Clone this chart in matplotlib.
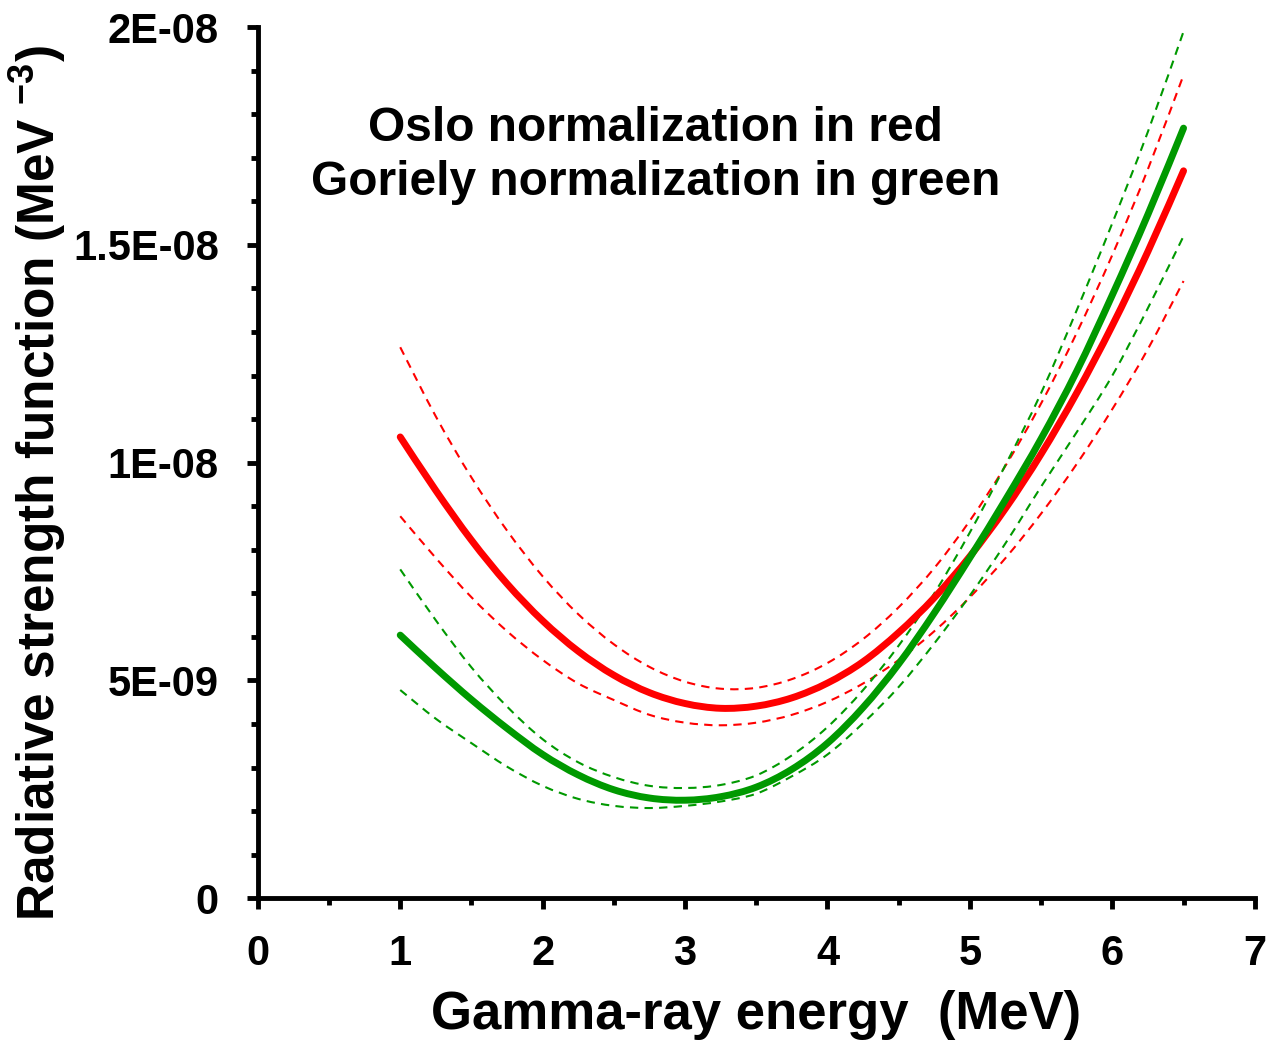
import numpy as np
import matplotlib
matplotlib.use("Agg")
import matplotlib.pyplot as plt
from matplotlib.ticker import MultipleLocator
from matplotlib.path import Path
from matplotlib.patches import PathPatch

plt.rcParams['font.family'] = ['Liberation Sans', 'DejaVu Sans']
plt.rcParams['font.weight'] = 'bold'
plt.rcParams['mathtext.fontset'] = 'custom'
plt.rcParams['mathtext.rm'] = 'Liberation Sans:bold'
plt.rcParams['mathtext.bf'] = 'Liberation Sans:bold'

# energie (MeV)
energy = [1.00, 1.25, 1.50, 1.75, 2.00, 2.25, 2.50, 2.75, 3.00, 3.25, 3.50, 3.75,
          4.00, 4.25, 4.50, 4.75, 5.00, 5.25, 5.50, 5.75, 6.00, 6.25, 6.50]

# Oslo normalization (x 1e-9)
oslo = [10.59, 9.36, 8.22, 7.22, 6.37, 5.67, 5.12, 4.72, 4.47, 4.36, 4.41, 4.60,
        4.94, 5.43, 6.10, 6.90, 7.85, 8.95, 10.20, 11.60, 13.15, 14.85, 16.70]
oslo_hi = [12.65, 11.06, 9.66, 8.44, 7.39, 6.52, 5.83, 5.31, 4.97, 4.81, 4.83, 5.03,
           5.40, 5.95, 6.68, 7.58, 8.67, 9.93, 11.36, 12.98, 14.77, 16.74, 18.90]
oslo_lo = [8.77, 7.81, 6.91, 6.13, 5.47, 4.93, 4.55, 4.21, 4.03, 3.97, 4.03, 4.21,
           4.51, 4.93, 5.47, 6.13, 6.91, 7.81, 8.83, 9.97, 11.23, 12.61, 14.17]

# Goriely normalization (x 1e-9)
gor = [6.04, 5.28, 4.56, 3.90, 3.30, 2.83, 2.49, 2.30, 2.25, 2.33, 2.55, 2.96,
       3.56, 4.38, 5.38, 6.55, 7.82, 9.15, 10.55, 12.10, 13.85, 15.70, 17.68]
gor_hi = [7.55, 6.38, 5.30, 4.40, 3.65, 3.12, 2.78, 2.58, 2.53, 2.60, 2.82, 3.28,
          3.93, 4.78, 5.80, 7.00, 8.40, 9.95, 11.60, 13.50, 15.50, 17.60, 19.90]
gor_lo = [4.78, 4.12, 3.56, 3.02, 2.58, 2.28, 2.12, 2.07, 2.12, 2.22, 2.40, 2.80,
          3.30, 4.02, 4.85, 5.85, 6.95, 8.15, 9.45, 10.70, 12.00, 13.55, 15.20]

ytick_vals = [0, 5e-9, 1e-8, 1.5e-8, 2e-8]
ytick_labels = ['0', '5E-09', '1E-08', '1.5E-08', '2E-08']


def smooth_line(ax, x, y, **kw):
    # ligne lissee comme dans Excel (bezier passant par les points)
    p = np.column_stack([x, y])
    n = len(p)
    verts = [p[0]]
    codes = [Path.MOVETO]
    for i in range(n - 1):
        p0 = p[i - 1] if i > 0 else p[i]
        p3 = p[i + 2] if i + 2 < n else p[i + 1]
        c1 = p[i] + (p[i + 1] - p0) / 6
        c2 = p[i + 1] - (p3 - p[i]) / 6
        verts += [c1, c2, p[i + 1]]
        codes += [Path.CURVE4] * 3
    ax.add_patch(PathPatch(Path(verts, codes), fill=False, **kw))


e = np.array(energy)
s = 1e-9

fig = plt.figure(figsize=(12.7, 10.42), dpi=100)
ax = fig.add_axes([0.203, 0.138, 0.785, 0.836])

red = '#FF0000'
green = '#009900'
dash = (0, (4, 3))

smooth_line(ax, e, np.array(oslo_hi) * s, edgecolor=red, lw=1.5, linestyle=dash)
smooth_line(ax, e, np.array(oslo_lo) * s, edgecolor=red, lw=1.5, linestyle=dash)
smooth_line(ax, e, np.array(gor_hi) * s, edgecolor=green, lw=1.5, linestyle=dash)
smooth_line(ax, e, np.array(gor_lo) * s, edgecolor=green, lw=1.5, linestyle=dash)
smooth_line(ax, e, np.array(oslo) * s, edgecolor=red, lw=5, capstyle='round', joinstyle='round')
smooth_line(ax, e, np.array(gor) * s, edgecolor=green, lw=5, capstyle='round', joinstyle='round')

ax.set_xlim(0, 7)
ax.set_ylim(0, 2e-8)
ax.set_yticks(ytick_vals)
ax.set_yticklabels(ytick_labels)
ax.xaxis.set_major_locator(MultipleLocator(1))
ax.xaxis.set_minor_locator(MultipleLocator(0.5))
ax.yaxis.set_minor_locator(MultipleLocator(1e-9))

for side in ['top', 'right']:
    ax.spines[side].set_visible(False)
for side in ['left', 'bottom']:
    ax.spines[side].set_linewidth(3.5)

ax.tick_params(which='major', direction='out', length=8, width=3.5, labelsize=30)
ax.tick_params(axis='y', which='major', pad=20)
ax.tick_params(axis='x', which='major', pad=18)
ax.tick_params(which='minor', direction='out', length=5, width=3.5)
for lab in ax.get_xticklabels() + ax.get_yticklabels():
    lab.set_fontweight('bold')

ax.set_xlabel('Gamma-ray energy  (MeV)', fontsize=38, fontweight='bold')
ax.set_ylabel(r'Radiative strength function (MeV $^{-3}$)', fontsize=37, fontweight='bold')
ax.xaxis.set_label_coords(0.5, -0.105)
ax.yaxis.set_label_coords(-0.19, 0.477)

fig.text(0.516, 0.851, 'Oslo normalization in red\nGoriely normalization in green',
         ha='center', va='center', fontsize=34.5, fontweight='bold', linespacing=1.26)

fig.savefig('out.png', dpi=100)
